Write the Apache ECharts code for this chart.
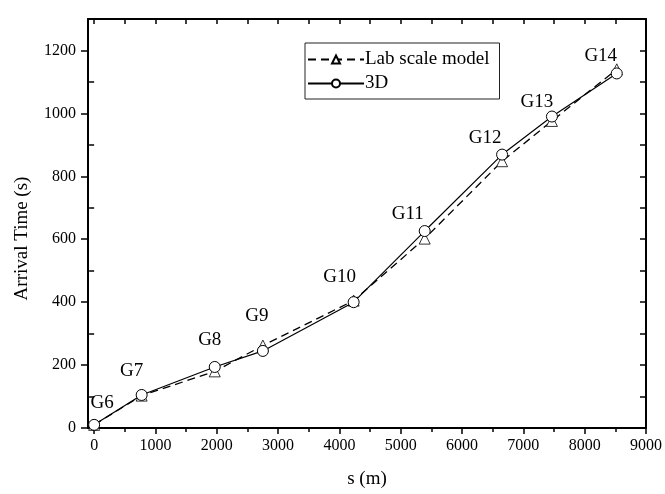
<!DOCTYPE html>
<html>
<head>
<meta charset="utf-8">
<script src="https://cdn.jsdelivr.net/npm/echarts@6/dist/echarts.min.js"></script>
<style>html,body{margin:0;padding:0;background:#fff}#c{width:665px;height:494px}</style>
</head>
<body>
<div id="c"></div>
<script>
// Data
const gauges = ['G6','G7','G8','G9','G10','G11','G12','G13','G14'];
const distance = [0, 775, 1967, 2752, 4232, 5391, 6653, 7466, 8523];
const labModel = [10, 103, 180, 262, 405, 602, 848, 976, 1140];
const model3D = [10, 105, 194, 245, 400, 626, 869, 990, 1127];
const xTickLabels = [0,1000,2000,3000,4000,5000,6000,7000,8000,9000];
const xMinorTicks = [500,1500,2500,3500,4500,5500,6500,7500,8500];
const yTickLabels = [0,200,400,600,800,1000,1200];
const yMinorTicks = [100,300,500,700,900,1100,1300];

// label offsets (style)
const labelOffsets = [[8,-22],[-10,-24],[-5,-27],[-6,-35],[-14,-25],[-17,-17],[-17,-17],[-15,-15],[-16,-17]];

const font = 'Liberation Serif, Times New Roman, serif';
const allX = xTickLabels.concat(xMinorTicks).sort((a,b)=>a-b);
const allY = yTickLabels.concat(yMinorTicks).sort((a,b)=>a-b);
const plain = v => String(v);

const chart = echarts.init(document.getElementById('c'));
const axisLine = {show:true, onZero:false, lineStyle:{color:'#000', width:2}};
chart.setOption({
  animation:false,
  backgroundColor:'#fff',
  grid:{left:88, right:17, top:19, bottom:61},
  legend:{
    left:305, top:43, width:193, height:56,
    orient:'vertical',
    borderColor:'#222', borderWidth:1, padding:[7,10,6,2],
    itemWidth:56, itemHeight:10, itemGap:5,
    textStyle:{fontFamily:font, fontSize:19, color:'#000', padding:[0,0,0,-4]},
    data:['Lab scale model','3D']
  },
  xAxis:[
    {type:'value', min:-100, max:9000, position:'bottom',
     axisLine:axisLine, splitLine:{show:false},
     axisTick:{show:true, inside:false, length:6, customValues:xTickLabels, lineStyle:{width:1.5,color:'#000'}},
     axisLabel:{customValues:xTickLabels, formatter:plain, fontFamily:font, fontSize:16, color:'#000', margin:10},
     name:'s (m)', nameLocation:'middle', nameGap:42,
     nameTextStyle:{fontFamily:font, fontSize:19, color:'#000'}},
    {type:'value', min:-100, max:9000, position:'bottom',
     axisLine:{show:false}, splitLine:{show:false},
     axisTick:{show:true, inside:false, length:4, customValues:xMinorTicks, lineStyle:{width:1.5,color:'#000'}},
     axisLabel:{show:false}},
    {type:'value', min:-100, max:9000, position:'top',
     axisLine:axisLine, splitLine:{show:false},
     axisTick:{show:true, inside:true, length:5, customValues:allX, lineStyle:{width:1.5,color:'#000'}},
     axisLabel:{show:false}}
  ],
  yAxis:[
    {type:'value', min:0, max:1300, position:'left',
     axisLine:axisLine, splitLine:{show:false},
     axisTick:{show:true, inside:false, length:7, customValues:yTickLabels, lineStyle:{width:1.5,color:'#000'}},
     axisLabel:{customValues:yTickLabels, formatter:plain, fontFamily:font, fontSize:16, color:'#000', margin:12},
     name:'Arrival Time (s)', nameLocation:'middle', nameGap:56,
     nameTextStyle:{fontFamily:font, fontSize:19, color:'#000', padding:[0,30,0,0]}},
    {type:'value', min:0, max:1300, position:'left',
     axisLine:{show:false}, splitLine:{show:false},
     axisTick:{show:true, inside:false, length:5, customValues:yMinorTicks, lineStyle:{width:1.5,color:'#000'}},
     axisLabel:{show:false}},
    {type:'value', min:0, max:1300, position:'right',
     axisLine:axisLine, splitLine:{show:false},
     axisTick:{show:true, inside:true, length:6, customValues:allY, lineStyle:{width:1.5,color:'#000'}},
     axisLabel:{show:false}}
  ],
  series:[
    {name:'Lab scale model', type:'line', xAxisIndex:0, yAxisIndex:0,
     data:distance.map((d,i)=>[d, labModel[i]]),
     symbol:'triangle', symbolSize:11,
     lineStyle:{color:'#000', width:1.3, type:[8,5]},
     itemStyle:{color:'#fff', borderColor:'#000', borderWidth:0.8},
     z:2},
    {name:'3D', type:'line', xAxisIndex:0, yAxisIndex:0,
     data:distance.map((d,i)=>({
       value:[d, model3D[i]],
       label:{show:true, position:'inside', offset:labelOffsets[i], formatter:gauges[i],
              fontFamily:font, fontSize:19, color:'#000'}
     })),
     symbol:'circle', symbolSize:11,
     lineStyle:{color:'#000', width:1.2, type:'solid'},
     itemStyle:{color:'#fff', borderColor:'#000', borderWidth:1},
     z:3}
  ]
});
</script>
</body>
</html>
